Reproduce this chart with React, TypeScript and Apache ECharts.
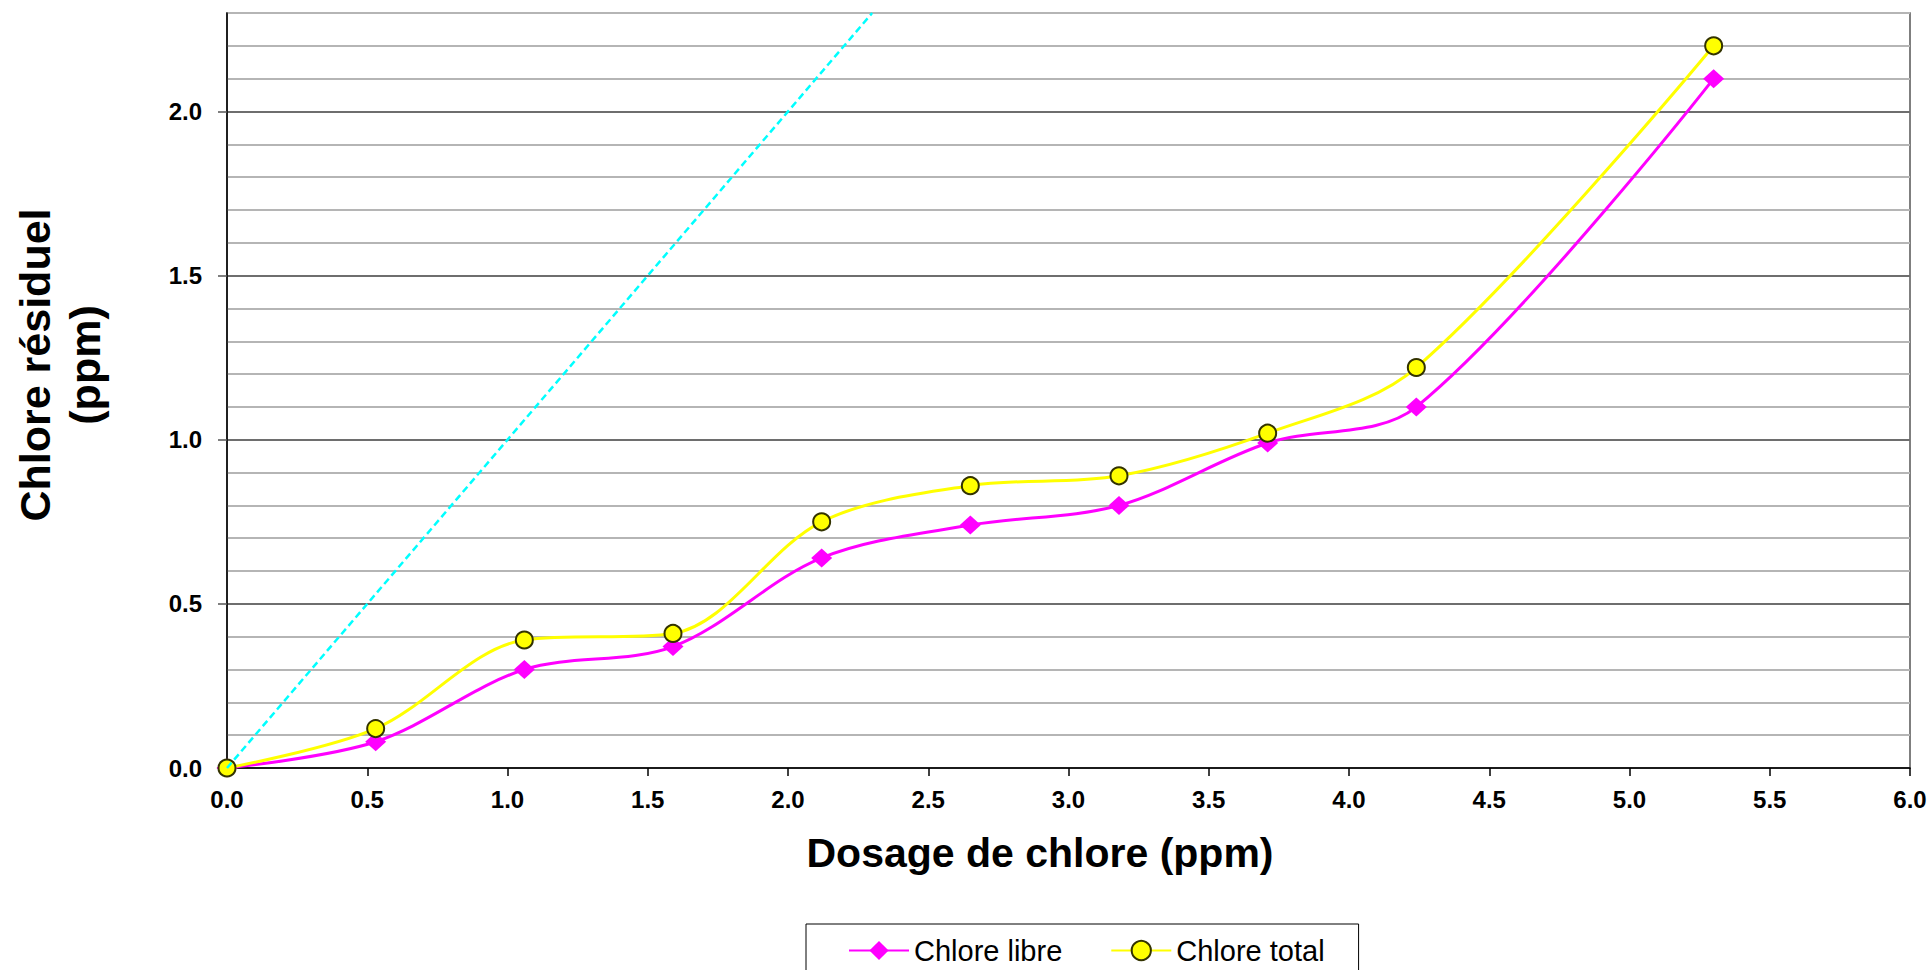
import React, { useEffect, useRef } from "react";
import * as echarts from "echarts";

const xValues = [0, 0.53, 1.06, 1.59, 2.12, 2.65, 3.18, 3.71, 4.24, 5.3];
const chloreLibre = [0, 0.08, 0.3, 0.37, 0.64, 0.74, 0.8, 0.99, 1.1, 2.1];
const chloreTotal = [0, 0.12, 0.39, 0.41, 0.75, 0.86, 0.89, 1.02, 1.22, 2.2];
const demandX = [0, 2.3];
const demandY = [0, 2.3];
const yTickLabels = [0, 0.5, 1.0, 1.5, 2.0];
const seriesNames = ["Chlore libre", "Chlore total"];
const xTitle = "Dosage de chlore (ppm)";
const yTitle = "Chlore résiduel\n(ppm)";

export default function App() {
  const ref = useRef<HTMLDivElement>(null);
  useEffect(() => {
    if (!ref.current) return;
    const chart = echarts.init(ref.current, null, { renderer: "svg" });
    const tickFont = {
      fontFamily: "'Liberation Sans Narrow', 'Arial Narrow', 'Liberation Sans', sans-serif",
      fontWeight: "bold" as const,
      fontSize: 24,
      color: "#000",
    };
    chart.setOption({
      animation: false,
      backgroundColor: "#fff",
      grid: {
        left: 227,
        right: 21,
        top: 13,
        bottom: 202,
        show: true,
        borderColor: "#555",
        borderWidth: 1.5,
        backgroundColor: "transparent",
      },
      xAxis: {
        type: "value",
        min: 0,
        max: 6,
        interval: 0.5,
        axisLine: { show: true, lineStyle: { color: "#000", width: 1.5 } },
        axisTick: { show: true, length: 8, lineStyle: { color: "#000", width: 1.5 } },
        axisLabel: { ...tickFont, margin: 19, formatter: (v: number) => v.toFixed(1) },
        splitLine: { show: false },
      },
      yAxis: [
        {
          type: "value",
          min: 0,
          max: 2.3,
          interval: 0.1,
          position: "left",
          axisLine: { show: false },
          axisTick: { show: false },
          axisLabel: { show: false },
          splitLine: {
            show: true,
            lineStyle: {
              color: ["#6e6e6e", "#b5b5b5", "#b5b5b5", "#b5b5b5", "#b5b5b5"],
              width: 2,
            },
          },
          z: 0,
        },
        {
          type: "value",
          min: 0,
          max: 2.3,
          position: "left",
          offset: 0,
          axisLine: { show: true, lineStyle: { color: "#000", width: 1.5 } },
          axisTick: {
            show: true,
            length: 9,
            customValues: yTickLabels,
            lineStyle: { color: "#555", width: 1.5 },
          },
          axisLabel: {
            ...tickFont,
            margin: 25,
            customValues: yTickLabels,
            formatter: (v: number) => v.toFixed(1),
          },
          splitLine: { show: false },
          z: 2,
        },
      ],
      legend: {
        data: seriesNames,
        left: 806,
        top: 924,
        orient: "horizontal",
        padding: [12, 34, 40, 42],
        itemWidth: 60,
        itemHeight: 24,
        itemGap: 48,
        borderColor: "#000",
        borderWidth: 1,
        backgroundColor: "#fff",
        textStyle: {
          fontFamily: "'Liberation Sans', Arial, sans-serif",
          fontSize: 29,
          color: "#000",
        },
      },
      graphic: [
        {
          type: "text",
          x: 1040,
          y: 853,
          style: {
            text: xTitle,
            fontFamily: "'Liberation Sans', Arial, sans-serif",
            fontWeight: "bold",
            fontSize: 41,
            fill: "#000",
            align: "center",
            verticalAlign: "middle",
          },
        },
        {
          type: "text",
          x: 60,
          y: 365,
          rotation: Math.PI / 2,
          style: {
            text: yTitle,
            fontFamily: "'Liberation Sans', Arial, sans-serif",
            fontWeight: "bold",
            fontSize: 43,
            lineHeight: 50,
            fill: "#000",
            align: "center",
            verticalAlign: "middle",
          },
        },
      ],
      series: [
        {
          name: seriesNames[0],
          type: "line",
          yAxisIndex: 1,
          data: xValues.map((x, i) => [x, chloreLibre[i]]),
          smooth: 0.33,
          symbol: "diamond",
          symbolSize: [21, 19],
          lineStyle: { color: "#ff00ff", width: 3 },
          itemStyle: { color: "#ff00ff", borderWidth: 0 },
          z: 3,
        },
        {
          name: seriesNames[1],
          type: "line",
          yAxisIndex: 1,
          data: xValues.map((x, i) => [x, chloreTotal[i]]),
          smooth: 0.33,
          symbol: "circle",
          symbolSize: 17,
          lineStyle: { color: "#ffff00", width: 3 },
          itemStyle: { color: "#ffff00", borderColor: "#333300", borderWidth: 2 },
          z: 4,
        },
        {
          name: "Demande",
          type: "line",
          yAxisIndex: 1,
          data: demandX.map((x, i) => [x, demandY[i]]),
          symbol: "none",
          lineStyle: { color: "#00ffff", width: 2.5, type: [7, 4] },
          z: 5,
        },
      ],
    });
    return () => chart.dispose();
  }, []);
  return (
    <div
      ref={ref}
      style={{ position: "absolute", left: 0, top: 0, width: 1931, height: 970 }}
    />
  );
}
